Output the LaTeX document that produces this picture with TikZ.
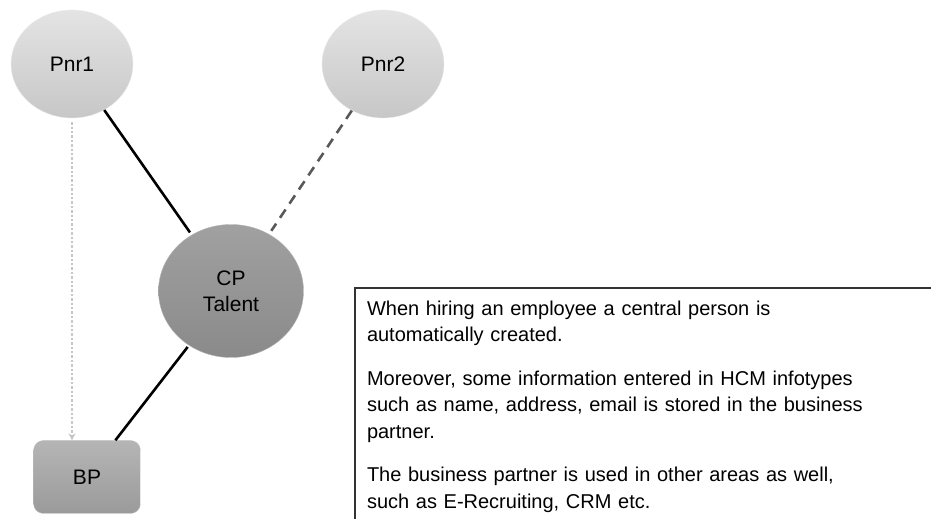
\documentclass[tikz,border=0pt]{standalone}
\usepackage{fontspec}
\setmainfont{Liberation Sans}
\usetikzlibrary{shapes.geometric,arrows.meta}

\definecolor{pnrgray}{RGB}{221,221,221}
\definecolor{cpgray}{RGB}{150,150,150}
\definecolor{bpgray}{RGB}{168,168,168}

\tikzset{
    partner/.style={ellipse, minimum width=122pt, minimum height=108pt,
        top color=pnrgray!80!white, bottom color=pnrgray!90!black,
        draw=pnrgray!60!white, font=\fontsize{21}{26}\selectfont},
    central/.style={ellipse, minimum width=145pt, minimum height=133pt,
        top color=cpgray!90!white, bottom color=cpgray!92!black,
        draw=cpgray!70!white, align=center, font=\fontsize{21}{26}\selectfont},
    bpbox/.style={rectangle, rounded corners=10pt, minimum width=107pt, minimum height=73pt,
        top color=bpgray!85!white, bottom color=bpgray!92!black,
        draw=bpgray!70!white, font=\fontsize{21}{26}\selectfont},
    link/.style={line width=2.6pt, black},
}

\begin{document}
\begin{tikzpicture}[x=1pt, y=1pt]

    % Page frame
    \clip (0,0) rectangle (931,519);

    % Persons
    \node[partner] (pnr_one) at (72,455) {Pnr1};
    \node[partner] (pnr_two) at (383,455) {Pnr2};

    % Central person
    \node[central] (cp_talent) at (231,228) {CP\\Talent};

    % Business partner
    \node[bpbox] (bp_box) at (87,42) {BP};

    % Links
    \draw[link, shorten >=3pt] (pnr_one) -- (cp_talent);
    \draw[link, black!65, dash pattern=on 10pt off 7pt, shorten >=4pt] (pnr_two) -- (cp_talent);
    \draw[link, shorten <=2pt] (cp_talent) -- (bp_box);
    \draw[gray!45, line width=2.4pt, dotted, -{Stealth[length=7pt,width=7pt]}, shorten <=4pt]
        (pnr_one.south) -- (pnr_one.south |- bp_box.north);

    % Explanation
    \node[draw=black!80,
        line width=2pt,
        anchor=north west,
        align=left,
        text width=600pt,
        inner xsep=12pt,
        inner ysep=13pt,
        font=\fontsize{20}{26.5}\selectfont] (info_box) at (354,232) {When hiring an employee a central person is\\
automatically created.\\[17pt]
Moreover, some information entered in HCM infotypes\\
such as name, address, email is stored in the business\\
partner.\\[17pt]
The business partner is used in other areas as well,\\
such as E-Recruiting, CRM etc.\par\vspace*{30pt}};

\end{tikzpicture}
\end{document}
